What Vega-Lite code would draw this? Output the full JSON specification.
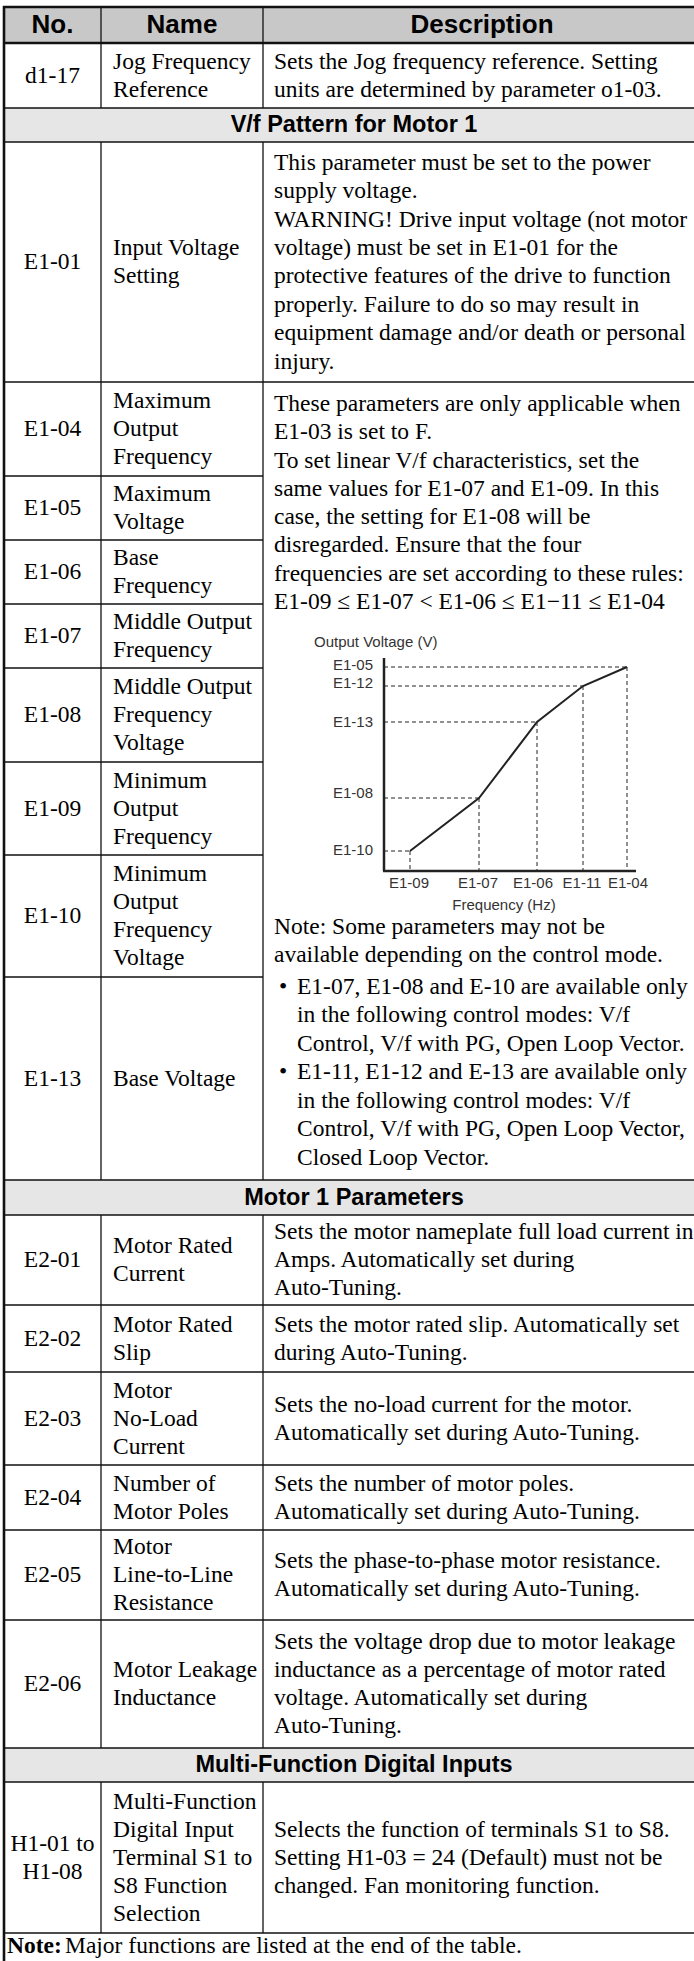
{
  "$schema": "https://vega.github.io/schema/vega-lite/v6.json",
  "width": 694,
  "height": 1961,
  "autosize": {"type": "none"},
  "padding": 0,
  "background": "white",
  "config": {"view": {"stroke": null}},
  "datasets": {
    "fills": [
      {"x": 4, "x2": 694, "y": 7, "y2": 43, "band": "header"},
      {"x": 4, "x2": 694, "y": 108, "y2": 142, "band": "section"},
      {"x": 4, "x2": 694, "y": 1180, "y2": 1215, "band": "section"},
      {"x": 4, "x2": 694, "y": 1748, "y2": 1782, "band": "section"}
    ],
    "grid": [
      {"x": 3, "x2": 694, "y": 7, "y2": 7, "weight": "thick"},
      {"x": 4, "x2": 694, "y": 43, "y2": 43, "weight": "thick"},
      {"x": 4, "x2": 4, "y": 6, "y2": 1961, "weight": "thick"},
      {"x": 4, "x2": 694, "y": 108, "y2": 108, "weight": "thin"},
      {"x": 4, "x2": 694, "y": 142, "y2": 142, "weight": "thin"},
      {"x": 4, "x2": 694, "y": 382, "y2": 382, "weight": "thin"},
      {"x": 4, "x2": 263, "y": 476, "y2": 476, "weight": "thin"},
      {"x": 4, "x2": 263, "y": 540, "y2": 540, "weight": "thin"},
      {"x": 4, "x2": 263, "y": 604, "y2": 604, "weight": "thin"},
      {"x": 4, "x2": 263, "y": 668, "y2": 668, "weight": "thin"},
      {"x": 4, "x2": 263, "y": 762, "y2": 762, "weight": "thin"},
      {"x": 4, "x2": 263, "y": 855, "y2": 855, "weight": "thin"},
      {"x": 4, "x2": 263, "y": 977, "y2": 977, "weight": "thin"},
      {"x": 4, "x2": 694, "y": 1180, "y2": 1180, "weight": "thin"},
      {"x": 4, "x2": 694, "y": 1215, "y2": 1215, "weight": "thin"},
      {"x": 4, "x2": 694, "y": 1305, "y2": 1305, "weight": "thin"},
      {"x": 4, "x2": 694, "y": 1372, "y2": 1372, "weight": "thin"},
      {"x": 4, "x2": 694, "y": 1465, "y2": 1465, "weight": "thin"},
      {"x": 4, "x2": 694, "y": 1530, "y2": 1530, "weight": "thin"},
      {"x": 4, "x2": 694, "y": 1620, "y2": 1620, "weight": "thin"},
      {"x": 4, "x2": 694, "y": 1748, "y2": 1748, "weight": "thin"},
      {"x": 4, "x2": 694, "y": 1782, "y2": 1782, "weight": "thin"},
      {"x": 4, "x2": 694, "y": 1933, "y2": 1933, "weight": "thin"},
      {"x": 101, "x2": 101, "y": 7, "y2": 108, "weight": "thin"},
      {"x": 263, "x2": 263, "y": 7, "y2": 108, "weight": "thin"},
      {"x": 101, "x2": 101, "y": 142, "y2": 1180, "weight": "thin"},
      {"x": 263, "x2": 263, "y": 142, "y2": 1180, "weight": "thin"},
      {"x": 101, "x2": 101, "y": 1215, "y2": 1748, "weight": "thin"},
      {"x": 263, "x2": 263, "y": 1215, "y2": 1748, "weight": "thin"},
      {"x": 101, "x2": 101, "y": 1782, "y2": 1933, "weight": "thin"},
      {"x": 263, "x2": 263, "y": 1782, "y2": 1933, "weight": "thin"}
    ],
    "guides": [
      {"x": 384, "x2": 627, "y": 667, "y2": 667},
      {"x": 384, "x2": 583, "y": 686, "y2": 686},
      {"x": 384, "x2": 537, "y": 722, "y2": 722},
      {"x": 384, "x2": 479, "y": 798, "y2": 798},
      {"x": 384, "x2": 410, "y": 851, "y2": 851},
      {"x": 410, "x2": 410, "y": 851, "y2": 870},
      {"x": 479, "x2": 479, "y": 798, "y2": 870},
      {"x": 537, "x2": 537, "y": 722, "y2": 870},
      {"x": 583, "x2": 583, "y": 686, "y2": 870},
      {"x": 627, "x2": 627, "y": 667, "y2": 870}
    ],
    "axes": [
      {"x": 384, "x2": 384, "y": 658, "y2": 871},
      {"x": 383, "x2": 636, "y": 871, "y2": 871}
    ],
    "curve": [
      {"x": 410, "y": 851},
      {"x": 479, "y": 798},
      {"x": 537, "y": 722},
      {"x": 583, "y": 686},
      {"x": 627, "y": 667}
    ],
    "texts": [
      {"t": "No.", "x": 52.5, "y": 25, "role": "head"},
      {"t": "Name", "x": 182, "y": 25, "role": "head"},
      {"t": "Description", "x": 482, "y": 25, "role": "head"},
      {"t": "V/f Pattern for Motor 1", "x": 354, "y": 125, "role": "section"},
      {"t": "Motor 1 Parameters", "x": 354, "y": 1197.5, "role": "section"},
      {"t": "Multi-Function Digital Inputs", "x": 354, "y": 1765, "role": "section"},
      {"t": "d1-17", "x": 52.5, "y": 75.5, "role": "no"},
      {"t": "E1-01", "x": 52.5, "y": 262, "role": "no"},
      {"t": "E1-04", "x": 52.5, "y": 429, "role": "no"},
      {"t": "E1-05", "x": 52.5, "y": 508, "role": "no"},
      {"t": "E1-06", "x": 52.5, "y": 572, "role": "no"},
      {"t": "E1-07", "x": 52.5, "y": 636, "role": "no"},
      {"t": "E1-08", "x": 52.5, "y": 715, "role": "no"},
      {"t": "E1-09", "x": 52.5, "y": 808.5, "role": "no"},
      {"t": "E1-10", "x": 52.5, "y": 916, "role": "no"},
      {"t": "E1-13", "x": 52.5, "y": 1078.5, "role": "no"},
      {"t": "E2-01", "x": 52.5, "y": 1260, "role": "no"},
      {"t": "E2-02", "x": 52.5, "y": 1338.5, "role": "no"},
      {"t": "E2-03", "x": 52.5, "y": 1418.5, "role": "no"},
      {"t": "E2-04", "x": 52.5, "y": 1497.5, "role": "no"},
      {"t": "E2-05", "x": 52.5, "y": 1575, "role": "no"},
      {"t": "E2-06", "x": 52.5, "y": 1684, "role": "no"},
      {"t": "H1-01 to", "x": 52.5, "y": 1843.5, "role": "no"},
      {"t": "H1-08", "x": 52.5, "y": 1871.5, "role": "no"},
      {"t": "Jog Frequency", "x": 113, "y": 61.5, "role": "cell"},
      {"t": "Reference", "x": 113, "y": 89.5, "role": "cell"},
      {"t": "Sets the Jog frequency reference. Setting", "x": 274, "y": 61.5, "role": "cell"},
      {"t": "units are determined by parameter o1-03.", "x": 274, "y": 89.5, "role": "cell"},
      {"t": "Input Voltage", "x": 113, "y": 248, "role": "cell"},
      {"t": "Setting", "x": 113, "y": 276, "role": "cell"},
      {"t": "This parameter must be set to the power", "x": 274, "y": 163, "role": "cell"},
      {"t": "supply voltage.", "x": 274, "y": 191, "role": "cell"},
      {"t": "WARNING! Drive input voltage (not motor", "x": 274, "y": 220, "role": "cell"},
      {"t": "voltage) must be set in E1-01 for the", "x": 274, "y": 248, "role": "cell"},
      {"t": "protective features of the drive to function", "x": 274, "y": 276, "role": "cell"},
      {"t": "properly. Failure to do so may result in", "x": 274, "y": 305, "role": "cell"},
      {"t": "equipment damage and/or death or personal", "x": 274, "y": 333, "role": "cell"},
      {"t": "injury.", "x": 274, "y": 362, "role": "cell"},
      {"t": "Maximum", "x": 113, "y": 401, "role": "cell"},
      {"t": "Output", "x": 113, "y": 429, "role": "cell"},
      {"t": "Frequency", "x": 113, "y": 457, "role": "cell"},
      {"t": "Maximum", "x": 113, "y": 494, "role": "cell"},
      {"t": "Voltage", "x": 113, "y": 522, "role": "cell"},
      {"t": "Base", "x": 113, "y": 558, "role": "cell"},
      {"t": "Frequency", "x": 113, "y": 586, "role": "cell"},
      {"t": "Middle Output", "x": 113, "y": 622, "role": "cell"},
      {"t": "Frequency", "x": 113, "y": 650, "role": "cell"},
      {"t": "Middle Output", "x": 113, "y": 687, "role": "cell"},
      {"t": "Frequency", "x": 113, "y": 715, "role": "cell"},
      {"t": "Voltage", "x": 113, "y": 743, "role": "cell"},
      {"t": "Minimum", "x": 113, "y": 780.5, "role": "cell"},
      {"t": "Output", "x": 113, "y": 808.5, "role": "cell"},
      {"t": "Frequency", "x": 113, "y": 836.5, "role": "cell"},
      {"t": "Minimum", "x": 113, "y": 874, "role": "cell"},
      {"t": "Output", "x": 113, "y": 902, "role": "cell"},
      {"t": "Frequency", "x": 113, "y": 930, "role": "cell"},
      {"t": "Voltage", "x": 113, "y": 958, "role": "cell"},
      {"t": "Base Voltage", "x": 113, "y": 1078.5, "role": "cell"},
      {"t": "These parameters are only applicable when", "x": 274, "y": 404, "role": "cell"},
      {"t": "E1-03 is set to F.", "x": 274, "y": 432, "role": "cell"},
      {"t": "To set linear V/f characteristics, set the", "x": 274, "y": 461, "role": "cell"},
      {"t": "same values for E1-07 and E1-09. In this", "x": 274, "y": 489, "role": "cell"},
      {"t": "case, the setting for E1-08 will be", "x": 274, "y": 517, "role": "cell"},
      {"t": "disregarded. Ensure that the four", "x": 274, "y": 545, "role": "cell"},
      {"t": "frequencies are set according to these rules:", "x": 274, "y": 574, "role": "cell"},
      {"t": "E1-09 ≤ E1-07 < E1-06 ≤ E1−11 ≤ E1-04", "x": 274, "y": 602, "role": "cell"},
      {"t": "Note: Some parameters may not be", "x": 274, "y": 927, "role": "cell"},
      {"t": "available depending on the control mode.", "x": 274, "y": 955, "role": "cell"},
      {"t": "•", "x": 283, "y": 987, "role": "bullet"},
      {"t": "E1-07, E1-08 and E-10 are available only", "x": 297, "y": 987, "role": "cell"},
      {"t": "in the following control modes: V/f", "x": 297, "y": 1015, "role": "cell"},
      {"t": "Control, V/f with PG, Open Loop Vector.", "x": 297, "y": 1044, "role": "cell"},
      {"t": "•", "x": 283, "y": 1072, "role": "bullet"},
      {"t": "E1-11, E1-12 and E-13 are available only", "x": 297, "y": 1072, "role": "cell"},
      {"t": "in the following control modes: V/f", "x": 297, "y": 1101, "role": "cell"},
      {"t": "Control, V/f with PG, Open Loop Vector,", "x": 297, "y": 1129, "role": "cell"},
      {"t": "Closed Loop Vector.", "x": 297, "y": 1158, "role": "cell"},
      {"t": "Motor Rated", "x": 113, "y": 1246, "role": "cell"},
      {"t": "Current", "x": 113, "y": 1274, "role": "cell"},
      {"t": "Sets the motor nameplate full load current in", "x": 274, "y": 1232, "role": "cell"},
      {"t": "Amps. Automatically set during", "x": 274, "y": 1260, "role": "cell"},
      {"t": "Auto-Tuning.", "x": 274, "y": 1288, "role": "cell"},
      {"t": "Motor Rated", "x": 113, "y": 1324.5, "role": "cell"},
      {"t": "Slip", "x": 113, "y": 1352.5, "role": "cell"},
      {"t": "Sets the motor rated slip. Automatically set", "x": 274, "y": 1324.5, "role": "cell"},
      {"t": "during Auto-Tuning.", "x": 274, "y": 1352.5, "role": "cell"},
      {"t": "Motor", "x": 113, "y": 1390.5, "role": "cell"},
      {"t": "No-Load", "x": 113, "y": 1418.5, "role": "cell"},
      {"t": "Current", "x": 113, "y": 1446.5, "role": "cell"},
      {"t": "Sets the no-load current for the motor.", "x": 274, "y": 1404.5, "role": "cell"},
      {"t": "Automatically set during Auto-Tuning.", "x": 274, "y": 1432.5, "role": "cell"},
      {"t": "Number of", "x": 113, "y": 1483.5, "role": "cell"},
      {"t": "Motor Poles", "x": 113, "y": 1511.5, "role": "cell"},
      {"t": "Sets the number of motor poles.", "x": 274, "y": 1483.5, "role": "cell"},
      {"t": "Automatically set during Auto-Tuning.", "x": 274, "y": 1511.5, "role": "cell"},
      {"t": "Motor", "x": 113, "y": 1547, "role": "cell"},
      {"t": "Line-to-Line", "x": 113, "y": 1575, "role": "cell"},
      {"t": "Resistance", "x": 113, "y": 1603, "role": "cell"},
      {"t": "Sets the phase-to-phase motor resistance.", "x": 274, "y": 1561, "role": "cell"},
      {"t": "Automatically set during Auto-Tuning.", "x": 274, "y": 1589, "role": "cell"},
      {"t": "Motor Leakage", "x": 113, "y": 1670, "role": "cell"},
      {"t": "Inductance", "x": 113, "y": 1698, "role": "cell"},
      {"t": "Sets the voltage drop due to motor leakage", "x": 274, "y": 1642, "role": "cell"},
      {"t": "inductance as a percentage of motor rated", "x": 274, "y": 1670, "role": "cell"},
      {"t": "voltage. Automatically set during", "x": 274, "y": 1698, "role": "cell"},
      {"t": "Auto-Tuning.", "x": 274, "y": 1726, "role": "cell"},
      {"t": "Multi-Function", "x": 113, "y": 1801.5, "role": "cell"},
      {"t": "Digital Input", "x": 113, "y": 1829.5, "role": "cell"},
      {"t": "Terminal S1 to", "x": 113, "y": 1857.5, "role": "cell"},
      {"t": "S8 Function", "x": 113, "y": 1885.5, "role": "cell"},
      {"t": "Selection", "x": 113, "y": 1913.5, "role": "cell"},
      {"t": "Selects the function of terminals S1 to S8.", "x": 274, "y": 1829.5, "role": "cell"},
      {"t": "Setting H1-03 = 24 (Default) must not be", "x": 274, "y": 1857.5, "role": "cell"},
      {"t": "changed. Fan monitoring function.", "x": 274, "y": 1885.5, "role": "cell"},
      {"t": "Note:", "x": 7, "y": 1946, "role": "noteLabel"},
      {"t": "Major functions are listed at the end of the table.", "x": 65, "y": 1946, "role": "cell"},
      {"t": "Output Voltage (V)", "x": 314, "y": 642, "role": "gTitle"},
      {"t": "E1-05", "x": 373, "y": 665, "role": "gY"},
      {"t": "E1-12", "x": 373, "y": 683, "role": "gY"},
      {"t": "E1-13", "x": 373, "y": 722, "role": "gY"},
      {"t": "E1-08", "x": 373, "y": 793, "role": "gY"},
      {"t": "E1-10", "x": 373, "y": 850, "role": "gY"},
      {"t": "E1-09", "x": 409, "y": 883, "role": "gX"},
      {"t": "E1-07", "x": 478, "y": 883, "role": "gX"},
      {"t": "E1-06", "x": 533, "y": 883, "role": "gX"},
      {"t": "E1-11", "x": 582, "y": 883, "role": "gX"},
      {"t": "E1-04", "x": 628, "y": 883, "role": "gX"},
      {"t": "Frequency (Hz)", "x": 504, "y": 905, "role": "gX"}
    ]
  },
  "encoding": {
    "x": {"field": "x", "type": "quantitative", "scale": {"domain": [0, 694], "nice": false, "zero": false}, "axis": null},
    "y": {"field": "y", "type": "quantitative", "scale": {"domain": [0, 1961], "reverse": true, "nice": false, "zero": false}, "axis": null}
  },
  "layer": [
    {
      "data": {"name": "fills"},
      "mark": {"type": "rect"},
      "encoding": {
        "x2": {"field": "x2"},
        "y2": {"field": "y2"},
        "color": {"field": "band", "type": "nominal", "scale": {"domain": ["header", "section"], "range": ["#c8c8c8", "#e6e6e6"]}, "legend": null}
      }
    },
    {
      "data": {"name": "grid"},
      "mark": {"type": "rule", "color": "#111111"},
      "encoding": {
        "x2": {"field": "x2"},
        "y2": {"field": "y2"},
        "strokeWidth": {"field": "weight", "type": "nominal", "scale": {"domain": ["thin", "thick"], "range": [1.3, 2.6]}, "legend": null}
      }
    },
    {
      "data": {"name": "guides"},
      "mark": {"type": "rule", "color": "#222222", "strokeWidth": 1, "strokeDash": [4, 3]},
      "encoding": {"x2": {"field": "x2"}, "y2": {"field": "y2"}}
    },
    {
      "data": {"name": "axes"},
      "mark": {"type": "rule", "color": "#222222", "strokeWidth": 2.5},
      "encoding": {"x2": {"field": "x2"}, "y2": {"field": "y2"}}
    },
    {
      "data": {"name": "curve"},
      "mark": {"type": "line", "color": "#222222", "strokeWidth": 2}
    },
    {
      "data": {"name": "texts"},
      "transform": [{"filter": "datum.role === 'head'"}],
      "mark": {"type": "text", "font": "Liberation Sans", "fontWeight": "bold", "fontSize": 26, "align": "center", "baseline": "middle", "color": "#000000"},
      "encoding": {"text": {"field": "t"}}
    },
    {
      "data": {"name": "texts"},
      "transform": [{"filter": "datum.role === 'section'"}],
      "mark": {"type": "text", "font": "Liberation Sans", "fontWeight": "bold", "fontSize": 23.5, "align": "center", "baseline": "middle", "color": "#000000"},
      "encoding": {"text": {"field": "t"}}
    },
    {
      "data": {"name": "texts"},
      "transform": [{"filter": "datum.role === 'no'"}],
      "mark": {"type": "text", "font": "Liberation Serif", "fontSize": 23.5, "align": "center", "baseline": "middle", "color": "#000000"},
      "encoding": {"text": {"field": "t"}}
    },
    {
      "data": {"name": "texts"},
      "transform": [{"filter": "datum.role === 'cell'"}],
      "mark": {"type": "text", "font": "Liberation Serif", "fontSize": 23.5, "align": "left", "baseline": "middle", "color": "#000000"},
      "encoding": {"text": {"field": "t"}}
    },
    {
      "data": {"name": "texts"},
      "transform": [{"filter": "datum.role === 'bullet'"}],
      "mark": {"type": "text", "font": "Liberation Serif", "fontSize": 23.5, "align": "center", "baseline": "middle", "color": "#000000"},
      "encoding": {"text": {"field": "t"}}
    },
    {
      "data": {"name": "texts"},
      "transform": [{"filter": "datum.role === 'noteLabel'"}],
      "mark": {"type": "text", "font": "Liberation Serif", "fontWeight": "bold", "fontSize": 23.5, "align": "left", "baseline": "middle", "color": "#000000"},
      "encoding": {"text": {"field": "t"}}
    },
    {
      "data": {"name": "texts"},
      "transform": [{"filter": "datum.role === 'gTitle'"}],
      "mark": {"type": "text", "font": "Liberation Sans", "fontSize": 15, "align": "left", "baseline": "middle", "color": "#333333"},
      "encoding": {"text": {"field": "t"}}
    },
    {
      "data": {"name": "texts"},
      "transform": [{"filter": "datum.role === 'gY'"}],
      "mark": {"type": "text", "font": "Liberation Sans", "fontSize": 15, "align": "right", "baseline": "middle", "color": "#333333"},
      "encoding": {"text": {"field": "t"}}
    },
    {
      "data": {"name": "texts"},
      "transform": [{"filter": "datum.role === 'gX'"}],
      "mark": {"type": "text", "font": "Liberation Sans", "fontSize": 15, "align": "center", "baseline": "middle", "color": "#333333"},
      "encoding": {"text": {"field": "t"}}
    }
  ]
}
